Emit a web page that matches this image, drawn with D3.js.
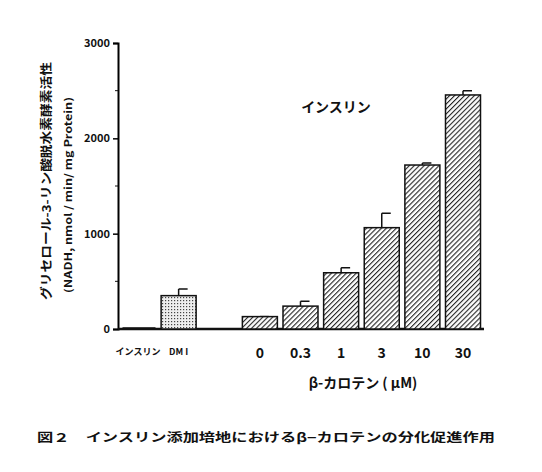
<!DOCTYPE html>
<html><head><meta charset="utf-8">
<script src="https://cdn.jsdelivr.net/npm/d3@7"></script>
<style>body{margin:0;background:#fff}text{font-family:"Noto Sans CJK JP",sans-serif;fill:#111}</style>
</head><body><svg id="c" width="542" height="472"></svg>
<script>
const controls = ["インスリン", "DM I"];
const controlValues = [10, 350];
const controlErr = [0, 420];
const doses = ["0", "0.3", "1", "3", "10", "30"];
const doseValues = [130, 240, 590, 1063, 1720, 2455];
const doseErr = [130, 290, 643, 1214, 1740, 2500];
const yTicks = [0, 1000, 2000, 3000];

const rows = controls.map((c, i) => ({label: c, v: controlValues[i], e: controlErr[i], slot: i, kind: i ? "dot" : "none"}))
  .concat(doses.map((d, i) => ({label: d, v: doseValues[i], e: doseErr[i], slot: i + 3, kind: "hatch"})));

const svg = d3.select("#c");
const defs = svg.append("defs");
const h = defs.append("pattern").attr("id", "hatch").attr("width", 3.5).attr("height", 3.5)
  .attr("patternUnits", "userSpaceOnUse").attr("patternTransform", "rotate(45)");
h.append("rect").attr("width", 3.5).attr("height", 3.5).attr("fill", "#fff");
h.append("line").attr("x1", 0).attr("y1", 0).attr("x2", 0).attr("y2", 3.5).attr("stroke", "#222").attr("stroke-width", 2.2);
const p = defs.append("pattern").attr("id", "dot").attr("width", 3).attr("height", 3).attr("patternUnits", "userSpaceOnUse");
p.append("rect").attr("width", 3).attr("height", 3).attr("fill", "#eee");
p.append("rect").attr("width", 1.2).attr("height", 1.2).attr("fill", "#444");

const y = d3.scaleLinear().domain([0, 3000]).range([329, 43]);
const x = d3.scaleLinear().domain([0, 8]).range([138, 463]);
const bw = 35;

const ax = svg.append("g").attr("transform", "translate(118,0)")
  .call(d3.axisLeft(y).tickValues(yTicks).tickSize(5).tickFormat(d3.format("d")));
ax.select(".domain").attr("stroke-width", 2);
ax.selectAll(".tick line").attr("stroke-width", 1.5);
ax.selectAll("text").attr("font-size", 11).attr("font-weight", "bold").attr("font-family", "Liberation Sans");
ax.selectAll(".minor").data([500, 1500, 2500]).enter().append("line")
  .attr("x1", -3).attr("x2", 0).attr("y1", d => y(d)).attr("y2", d => y(d)).attr("stroke", "#111");

svg.append("line").attr("x1", 118).attr("x2", 484).attr("y1", y(0)).attr("y2", y(0)).attr("stroke", "#111").attr("stroke-width", 2.5);

const bars = rows.filter(r => r.kind !== "none");
svg.selectAll(".err").data(bars).enter().append("path")
  .attr("d", r => `M${x(r.slot)},${y(r.v)}V${y(r.e)}M${x(r.slot)},${y(r.e)}H${x(r.slot) + 9}`)
  .attr("stroke", "#111").attr("stroke-width", 1.5).attr("fill", "none");
svg.selectAll(".bar").data(bars).enter().append("rect")
  .attr("x", r => x(r.slot) - bw / 2).attr("width", bw)
  .attr("y", r => y(r.v)).attr("height", r => y(0) - y(r.v))
  .attr("fill", r => `url(#${r.kind})`).attr("stroke", "#111").attr("stroke-width", 1.5);
svg.append("line").attr("x1", x(0) - bw / 2 + 2).attr("x2", x(0) + bw / 2).attr("y1", y(controlValues[0]))
  .attr("y2", y(controlValues[0])).attr("stroke", "#111").attr("stroke-width", 1.5);

svg.selectAll(".xl").data(rows).enter().append("text")
  .attr("x", r => x(r.slot)).attr("y", r => r.kind === "hatch" ? 358 : 355)
  .attr("text-anchor", "middle")
  .attr("font-size", r => r.kind === "hatch" ? 14 : 9)
  .attr("font-weight", "bold").attr("font-family", r => r.kind === "hatch" ? "Liberation Sans" : null)
  .text(r => r.label);

svg.append("text").attr("x", 363).attr("y", 388).attr("text-anchor", "middle").attr("font-size", 14)
  .attr("font-weight", "bold").text("β-カロテン ( μM)");
svg.append("text").attr("x", 336).attr("y", 112).attr("text-anchor", "middle").attr("font-size", 14)
  .attr("font-weight", "bold").text("インスリン");
svg.append("text").attr("transform", "translate(51,300) rotate(-90)")
  .attr("font-size", 12).attr("font-weight", "bold").attr("textLength", 238).attr("lengthAdjust", "spacingAndGlyphs")
  .text("グリセロール-3-リン酸脱水素酵素活性");
svg.append("text").attr("transform", "translate(72,293) rotate(-90)")
  .attr("font-size", 10).attr("font-weight", "bold").attr("font-family", "Liberation Sans")
  .attr("textLength", 196).attr("lengthAdjust", "spacingAndGlyphs")
  .text("(NADH, nmol / min/ mg Protein)");
svg.append("text").attr("x", 37).attr("y", 442).attr("font-size", 12).attr("font-weight", "bold")
  .attr("textLength", 458).attr("lengthAdjust", "spacingAndGlyphs")
  .text("図２　インスリン添加培地におけるβ−カロテンの分化促進作用");
</script></body></html>
